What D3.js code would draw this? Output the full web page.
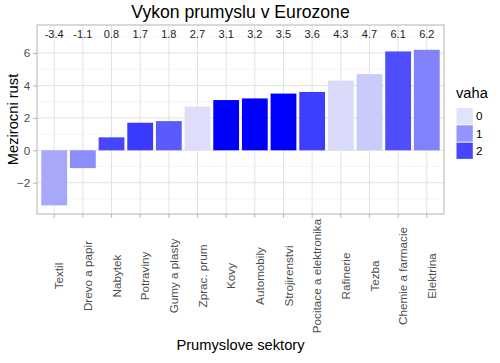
<!DOCTYPE html>
<html><head><meta charset="utf-8">
<script src="https://cdn.jsdelivr.net/npm/d3@7"></script>
<style>body{margin:0;background:#fff;} text{font-family:"Liberation Sans",Arial,sans-serif;}</style>
</head><body><svg id="c" width="500" height="363"></svg>
<script>
const categories = ["Textil","Drevo a papir","Nabytek","Potraviny","Gumy a plasty","Zprac. prum","Kovy","Automobily","Strojirenstvi","Pocitace a elektronika","Rafinerie","Tezba","Chemie a farmacie","Elektrina"];
const growth = [-3.4,-1.1,0.8,1.7,1.8,2.7,3.1,3.2,3.5,3.6,4.3,4.7,6.1,6.2];
const weight = [0.75,1.1,2.0,2.15,1.75,0.05,2.9,2.9,2.9,2.1,0.1,0.3,1.9,1.25];
const yTicks = [-2,0,2,4,6];
const yMinor = [-3,-1,1,3,5,7];
const legendBreaks = [0,1,2];
const title = "Vykon prumyslu v Eurozone";
const xTitle = "Prumyslove sektory";
const yTitle = "Mezirocni rust";
const legendTitle = "vaha";

const svg = d3.select("#c");
const L=37, R=444, T=25, B=214;
const x = d3.scaleBand().domain(categories).range([L,R]).paddingInner(0.1).paddingOuter(0.15);
const y = d3.scaleLinear().domain([-3.93,7.73]).range([B,T]);
const col = d3.scaleLinear().domain([0,d3.max(weight)]).range(["#E2E2FA","#0000FF"]).interpolate(d3.interpolateRgb);

// grid
const g = svg.append("g");
g.selectAll(".mn").data(yMinor).join("line").attr("x1",L).attr("x2",R).attr("y1",d=>y(d)).attr("y2",d=>y(d)).attr("stroke","#f0f0f0").attr("stroke-width",0.6);
g.selectAll(".mj").data(yTicks).join("line").attr("x1",L).attr("x2",R).attr("y1",d=>y(d)).attr("y2",d=>y(d)).attr("stroke","#e2e2e2").attr("stroke-width",1);
g.selectAll(".vx").data(categories).join("line").attr("x1",d=>x(d)+x.bandwidth()/2).attr("x2",d=>x(d)+x.bandwidth()/2).attr("y1",T).attr("y2",B).attr("stroke","#e2e2e2").attr("stroke-width",1);

// bars
svg.selectAll(".bar").data(categories).join("rect")
  .attr("x",d=>x(d)).attr("width",x.bandwidth())
  .attr("y",(d,i)=>y(Math.max(0,growth[i])))
  .attr("height",(d,i)=>Math.abs(y(growth[i])-y(0)))
  .attr("fill",(d,i)=>col(weight[i]));

// value labels
svg.selectAll(".val").data(categories).join("text")
  .attr("x",d=>x(d)+x.bandwidth()/2).attr("y",y(7.15)).attr("dy","0.35em")
  .attr("text-anchor","middle").attr("font-size",11).attr("fill","#222")
  .text((d,i)=>growth[i]);

// panel border
svg.append("rect").attr("x",L).attr("y",T).attr("width",R-L).attr("height",B-T).attr("fill","none").attr("stroke","#b3b3b3").attr("stroke-width",1);

// axes
const ya = svg.append("g").attr("transform",`translate(${L},0)`).call(d3.axisLeft(y).tickValues(yTicks).tickSize(3.7).tickPadding(3));
ya.select(".domain").remove();
ya.selectAll("line").attr("stroke","#b3b3b3");
ya.selectAll("text").attr("font-size",11.7).attr("fill","#4d4d4d").attr("font-family","Liberation Sans, Arial, sans-serif");

const xa = svg.append("g").attr("transform",`translate(0,${B})`).call(d3.axisBottom(x).tickSize(3.7).tickFormat(""));
xa.select(".domain").remove();
xa.selectAll("line").attr("stroke","#b3b3b3");

svg.selectAll(".xl").data(categories).join("text")
  .attr("transform",d=>`translate(${x(d)+x.bandwidth()/2},276) rotate(-90)`)
  .attr("dy","0.78em").attr("text-anchor","middle").attr("font-size",11.7).attr("fill","#4d4d4d")
  .text(d=>d);

// titles
svg.append("text").attr("x",(L+R)/2).attr("y",18).attr("text-anchor","middle").attr("font-size",17.6).attr("fill","#000").text(title);
svg.append("text").attr("x",(L+R)/2).attr("y",350).attr("text-anchor","middle").attr("font-size",14.7).attr("fill","#000").text(xTitle);
svg.append("text").attr("transform",`translate(18,${(T+B)/2}) rotate(-90)`).attr("text-anchor","middle").attr("font-size",14.7).attr("fill","#000").text(yTitle);

// legend
const lg = svg.append("g");
lg.append("text").attr("x",456).attr("y",98).attr("font-size",14.7).attr("fill","#000").text(legendTitle);
const kh=17.3;
lg.selectAll(".k").data(legendBreaks).join("rect").attr("x",456.5).attr("y",(d,i)=>107.5+i*kh+0.5).attr("width",kh-1).attr("height",kh-1).attr("fill",d=>col(d));
lg.selectAll(".kl").data(legendBreaks).join("text").attr("x",476).attr("y",(d,i)=>107.5+i*kh+kh/2).attr("dy","0.35em").attr("font-size",11.7).attr("fill","#000").text(d=>d);
</script></body></html>
